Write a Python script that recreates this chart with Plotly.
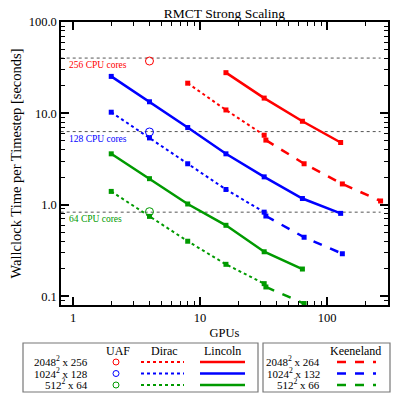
import numpy as np
import plotly.graph_objects as go

RED = "#ff0000"
BLUE = "#0000ff"
GREEN = "#009a00"
FONT = "Liberation Serif"

# data (GPUs vs seconds per timestep)
LINCOLN_GPUS = [[16, 32, 64, 128], [2, 4, 8, 16, 32, 64, 128], [2, 4, 8, 16, 32, 64]]
LINCOLN_TIME = [[27.9, 14.7, 8.2, 4.8],
                [25.4, 13.4, 7.0, 3.61, 2.02, 1.17, 0.805],
                [3.61, 1.93, 1.02, 0.596, 0.306, 0.198]]
DIRAC_GPUS = [[8, 16, 32], [2, 4, 8, 16, 32], [2, 4, 8, 16, 32]]
DIRAC_TIME = [[21.4, 10.9, 5.77],
              [10.3, 5.39, 2.81, 1.47, 0.83],
              [1.40, 0.746, 0.399, 0.223, 0.137]]
KEENELAND_GPUS = [[33, 66, 132, 264], [33, 66, 132], [33, 66]]
KEENELAND_TIME = [[5.1, 2.81, 1.69, 1.10],
                  [0.753, 0.441, 0.291],
                  [0.126, 0.083]]
UAF_GPUS = 4
UAF_TIME = [37.4, 6.26, 0.84]
CPU_LABELS = ["256 CPU cores", "128 CPU cores", "64 CPU cores"]
CPU_TIME = [40.3, 6.32, 0.83]
CPU_XSPAN = [0.8, 264]
COLOURS = [RED, BLUE, GREEN]

LINCOLN_LEG = ["2048<sup>2</sup> x 256", "1024<sup>2</sup> x 128", "512<sup>2</sup> x 64"]
KEENELAND_LEG = ["2048<sup>2</sup> x 264", "1024<sup>2</sup> x 132", "512<sup>2</sup> x 66"]

# the page body has an 8px margin, so the figure is drawn a bit smaller
OFF = 8
W, H = 392, 392
PL, PR, PT, PB = 61, 388, 22, 305   # plot box in page pixels


def px(x):
    return (x - PL) / (PR - PL)


def py(y):
    return (PB - y) / (PB - PT)


fig = go.Figure()

for i, c in enumerate(COLOURS):
    fig.add_trace(go.Scatter(x=CPU_XSPAN, y=[CPU_TIME[i]] * 2, mode="lines",
                             line=dict(color="#555555", width=1, dash="dot"),
                             showlegend=False, hoverinfo="skip"))
    fig.add_annotation(x=np.log10(0.9), y=np.log10(CPU_TIME[i]), text=CPU_LABELS[i],
                       showarrow=False, xanchor="left", yanchor="top", yshift=0,
                       font=dict(family=FONT, size=9.5, color=c))

for i, c in enumerate(COLOURS):
    fig.add_trace(go.Scatter(x=DIRAC_GPUS[i], y=DIRAC_TIME[i], mode="lines+markers",
                             line=dict(color=c, width=2, dash="dot"),
                             marker=dict(symbol="square", size=5, color=c), showlegend=False))
    fig.add_trace(go.Scatter(x=KEENELAND_GPUS[i], y=KEENELAND_TIME[i], mode="lines+markers",
                             line=dict(color=c, width=2.5, dash="dash"),
                             marker=dict(symbol="square", size=5, color=c), showlegend=False))
    fig.add_trace(go.Scatter(x=LINCOLN_GPUS[i], y=LINCOLN_TIME[i], mode="lines+markers",
                             line=dict(color=c, width=2.5),
                             marker=dict(symbol="square", size=5, color=c), showlegend=False))
    fig.add_trace(go.Scatter(x=[UAF_GPUS], y=[UAF_TIME[i]], mode="markers",
                             marker=dict(symbol="circle-open", size=8, color=c, line_width=1),
                             showlegend=False))

minor_x = [m * 10 ** e for e in range(0, 3) for m in range(2, 10)]
minor_y = [m * 10 ** e for e in range(-2, 2) for m in range(2, 10)]

axis_common = dict(type="log", showgrid=False, zeroline=False, showline=True,
                   linecolor="black", linewidth=1.5, mirror="ticks", ticks="inside",
                   tickcolor="black", tickwidth=1.5, ticklen=8, automargin=False,
                   tickfont=dict(family=FONT, size=12.5, color="black"))

fig.update_xaxes(**axis_common, range=[-0.0945, 2.48], tickvals=[1, 10, 100],
                 ticktext=["1", "10", "100"],
                 minor=dict(tickvals=minor_x, ticks="inside", ticklen=4,
                            tickcolor="black", tickwidth=1),
                 title=dict(text="GPUs", font=dict(family=FONT, size=12.5), standoff=4))
fig.update_yaxes(**axis_common, range=[np.log10(0.08), 2.0], tickvals=[0.1, 1, 10, 100],
                 ticktext=["0.1", "1.0", "10.0", "100.0"],
                 minor=dict(tickvals=minor_y, ticks="inside", ticklen=4,
                            tickcolor="black", tickwidth=1),
                 title=dict(text="Wallclock Time per Timestep [seconds]",
                            font=dict(family=FONT, size=14.5), standoff=10))

# hand-built legend tables under the plot
shapes = [
    dict(type="rect", xref="paper", yref="paper", x0=px(23), x1=px(258), y0=py(392), y1=py(343),
         line=dict(color="#777777", width=1.2)),
    dict(type="rect", xref="paper", yref="paper", x0=px(263), x1=px(390), y0=py(392), y1=py(343),
         line=dict(color="#777777", width=1.2)),
]
annos = []
hdr = dict(xref="paper", yref="paper", showarrow=False, yanchor="middle",
           font=dict(family=FONT, size=12, color="black"))
row = dict(hdr, font=dict(family=FONT, size=11, color="black"))
for t, x in [("UAF", 118), ("Dirac", 164), ("Lincoln", 222), ("Keeneland", 355)]:
    annos.append(dict(hdr, x=px(x), y=py(351), text=t, xanchor="center"))

rows_y = [362, 373.5, 385]
for i, c in enumerate(COLOURS):
    y = py(rows_y[i])
    annos.append(dict(row, x=px(90), y=py(rows_y[i] - 1), text=LINCOLN_LEG[i], xanchor="right"))
    annos.append(dict(row, x=px(322), y=py(rows_y[i] - 1), text=KEENELAND_LEG[i], xanchor="right"))
    shapes.append(dict(type="circle", xref="paper", yref="paper",
                       x0=px(113), x1=px(119), y0=py(rows_y[i] + 3), y1=py(rows_y[i] - 3),
                       line=dict(color=c, width=1)))
    shapes.append(dict(type="line", xref="paper", yref="paper", x0=px(141), x1=px(184),
                       y0=y, y1=y, line=dict(color=c, width=2, dash="dot")))
    shapes.append(dict(type="line", xref="paper", yref="paper", x0=px(200), x1=px(245),
                       y0=y, y1=y, line=dict(color=c, width=2.5)))
    shapes.append(dict(type="line", xref="paper", yref="paper", x0=px(337), x1=px(376),
                       y0=y, y1=y, line=dict(color=c, width=2.5, dash="dash")))

fig.update_layout(
    width=W, height=H,
    margin=dict(l=PL - OFF, r=W + OFF - PR, t=PT - OFF, b=H + OFF - PB),
    paper_bgcolor="white", plot_bgcolor="white",
    title=dict(text="RMCT Strong Scaling", x=0.5, xref="paper",
               y=1 - 5 / H, yref="container", yanchor="middle", pad=dict(t=0, b=0),
               font=dict(family=FONT, size=13.5, color="black")),
    font=dict(family=FONT, color="black"),
    shapes=shapes,
)
for a in annos:
    fig.add_annotation(**a)

fig.write_html("out.html")
